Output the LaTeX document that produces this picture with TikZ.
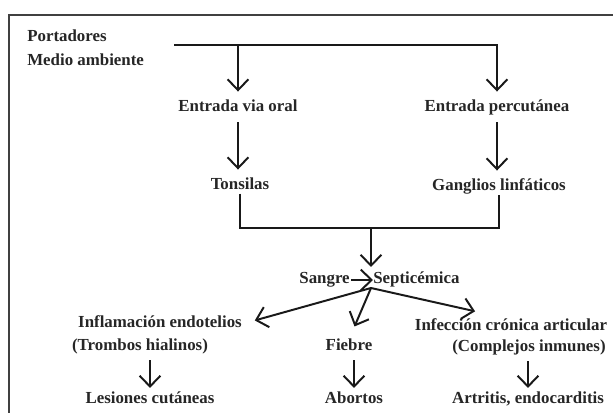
\documentclass[tikz,border=0pt]{standalone}
\usepackage{fontspec}
\setmainfont{Liberation Serif}
\usetikzlibrary{positioning}
\usetikzlibrary{arrows.meta}
\tikzset{
    txt/.style = {inner sep=0pt, text height=8pt, text depth=2.5pt, text=black!85, font=\bfseries\fontsize{12}{14}\selectfont},
    edgen/.style = {-{Straight Barb[length=2.7mm,width=5.2mm]}, line width=1.4pt, black!90, shorten <=0.16cm, shorten >=0.22cm}, % long
    edges/.style = {-{Straight Barb[length=2.7mm,width=5.2mm]}, line width=1.4pt, black!90, shorten <=0.14cm, shorten >=0.11cm}, % short
    edgel/.style = {line width=1.4pt, black!90}, % plain
    frame/.style = {line width=0.8pt, black!75}
}

\begin{document}
\begin{tikzpicture}[
  x=0.025cm, y=-0.025cm]
  \useasboundingbox (0,0) rectangle (613,413);
  \draw[frame] (613,15) -| (9,413);

  \node[txt, anchor=west] at (27,38) (por) {Portadores};
  \node[txt, anchor=west] at (27,62) (med) {Medio ambiente};
  \node[txt] at (238,108) (eo) {Entrada via oral};
  \node[txt] at (497,108) (ep) {Entrada percutánea};
  \node[txt] at (240,186) (ton) {Tonsilas};
  \node[txt] at (499,187) (gl) {Ganglios linfáticos};
  \node[txt, anchor=east] at (350,280) (san) {Sangre};
  \node[txt, anchor=west] at (373,280) (sep) {Septicémica};
  \node[txt] at (160,324) (inf) {Inflamación endotelios};
  \node[txt] at (140,347) (tro) {(Trombos hialinos)};
  \node[txt] at (150,400) (les) {Lesiones cutáneas};
  \node[txt] at (349,347) (fie) {Fiebre};
  \node[txt] at (354,400) (abo) {Abortos};
  \node[txt] at (511,327) (icr) {Infección crónica articular};
  \node[txt] at (529,348) (com) {(Complejos inmunes)};
  \node[txt] at (528,400) (art) {Artritis, endocarditis};

  \coordinate (tb) at (174,45);
  \coordinate (jn) at (371,228);
  \coordinate (bj) at (371,267);
  \coordinate (sp) at (371,288);

  \draw[edgen, shorten <=0pt] (tb) -| (ep.north);
  \draw[edgen, shorten <=0pt] (tb -| eo.north) -- (eo.north);
  \draw[edgen] (eo.south) -- (eo.south |- ton.north);
  \draw[edgen] (ep.south) -- (ep.south |- gl.north);
  \draw[edgel] (ton.south) |- (jn) -| (gl.south);
  \draw[edgen, shorten <=0pt, shorten >=0pt] (jn) -- (bj);
  \draw[edgen, shorten <=1pt, shorten >=0pt] (san) -- (sep);

  \draw[edgen, shorten <=0pt, shorten >=0.33cm] (sp) -- (inf.east);
  \draw[edgen, shorten <=0pt, shorten >=0.35cm] (sp) -- (fie.north);
  \draw[edgen, shorten <=0pt, shorten >=0.92cm] (sp) -- (icr.north);

  \draw[edges] (les.north |- tro.south) -- (les.north);
  \draw[edges] (abo.north |- fie.south) -- (abo.north);
  \draw[edges] (art.north |- com.south) -- (art.north);
\end{tikzpicture}
\end{document}
